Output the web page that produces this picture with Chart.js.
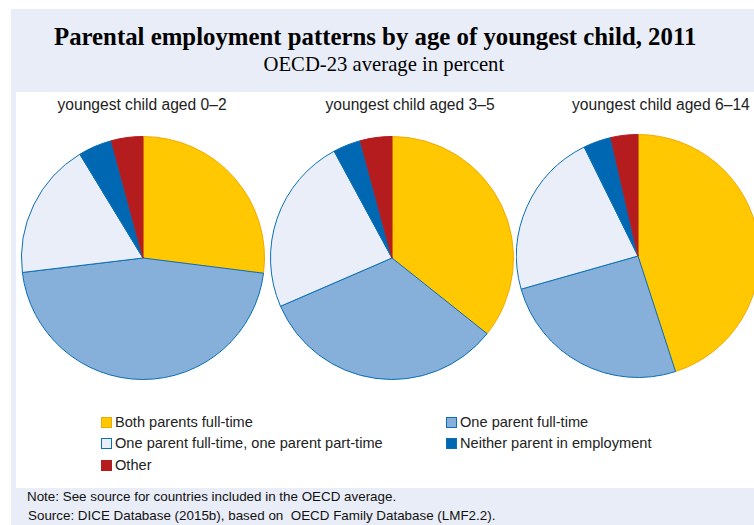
<!DOCTYPE html>
<html lang="en">
<head>
  <meta charset="UTF-8" />
  <title>Parental employment patterns</title>
  <script src="https://cdn.jsdelivr.net/npm/chart.js"></script>
  <style>
    html, body {
      margin: 0;
      padding: 0;
      width: 754px;
      height: 525px;
      overflow: hidden;
      background: #fff;
      font-family: "Liberation Sans", Arial, sans-serif;
    }
    #frame {
      position: absolute;
      left: 11px; top: 9px;
      width: 743px; height: 516px;
      background: #e9edf7;
      overflow: hidden;
    }
    #panel {
      position: absolute;
      left: 5px; top: 83px;
      width: 738px; height: 396px;
      background: #fff;
    }
    .abs { position: absolute; white-space: pre; }
    #title {
      font-family: "Liberation Serif", "Times New Roman", serif;
      font-weight: bold;
      font-size: 26px;
      color: #000;
      transform-origin: 0 0;
    }
    #subtitle {
      font-family: "Liberation Serif", "Times New Roman", serif;
      font-size: 20.7px;
      color: #000;
    }
    .pietitle { font-size: 15.6px; color: #222; }
    .legend-item { font-size: 14.6px; color: #222; }
    .swatch {
      display: inline-block;
      width: 9px; height: 9px;
      margin-right: 3px;
      vertical-align: -1px;
      border: 1px solid;
    }
    .note { font-size: 13.4px; color: #111; }
    canvas { position: absolute; }
  </style>
</head>
<body>
  <div id="frame">
    <div id="panel"></div>
  </div>

  <script>
    // categories (same order in every pie, clockwise from 12 o'clock)
    const categories = [
      "Both parents full-time",
      "One parent full-time",
      "One parent full-time, one parent part-time",
      "Neither parent in employment",
      "Other"
    ];
    const pieTitles = ["youngest child aged 0\u20132", "youngest child aged 3\u20135", "youngest child aged 6\u201314"];

    // percent shares
    const aged0to2  = [27.0, 46.1, 18.2, 4.5, 4.2];
    const aged3to5  = [35.7, 32.8, 23.6, 3.7, 4.2];
    const aged6to14 = [45.0, 25.6, 22.1, 3.7, 3.6];

    const fillColors   = ["#ffc800", "#86afd9", "#e9eef8", "#0068b3", "#b51c1e"];
    const borderColors = ["#f2a800", "#0a6fb5", "#0a6fb5", "#0a6fb5", "#b51c1e"];

    const frame = document.getElementById("frame");

    // place a text block; top is page y, centerX (page x) or left (page x)
    function addText(cls, text, left, top, centerX, id) {
      const d = document.createElement("div");
      d.className = "abs " + cls;
      if (id) d.id = id;
      d.textContent = text;
      frame.appendChild(d);
      d.style.top = (top - 9) + "px";
      if (centerX !== null) {
        d.style.left = (centerX - 11 - d.offsetWidth / 2) + "px";
      } else {
        d.style.left = (left - 11) + "px";
      }
      return d;
    }

    // main title is a condensed bold serif: squeeze it to the reference width
    const t = addText("", "Parental employment patterns by age of youngest child, 2011", 0, 22, null, "title");
    const tw = t.offsetWidth;
    t.style.transform = "scaleX(" + (642 / tw) + ")";
    t.style.left = (54 - 11) + "px";
    addText("", "OECD-23 average in percent", 0, 53, 384, "subtitle");

    // pies: [data, centerX, centerY, titleCenterX]
    const pies = [
      [aged0to2, 143, 258, 142],
      [aged3to5, 392, 258, 410],
      [aged6to14, 638, 256, 661]
    ];
    const size = 244;

    pies.forEach((p, i) => {
      addText("pietitle", pieTitles[i], 0, 96, p[3]);

      const c = document.createElement("canvas");
      c.width = size; c.height = size;
      c.style.left = (p[1] - size / 2 - 11) + "px";
      c.style.top = (p[2] - size / 2 - 9) + "px";
      frame.appendChild(c);

      new Chart(c.getContext("2d"), {
        type: "pie",
        data: {
          labels: categories,
          datasets: [{
            data: p[0],
            backgroundColor: fillColors,
            borderColor: borderColors,
            borderWidth: 1
          }]
        },
        options: {
          responsive: false,
          animation: false,
          layout: { padding: 0 },
          plugins: {
            legend: { display: false },
            tooltip: { enabled: false }
          }
        }
      });
    });

    // legend, two columns
    const legendPos = [[101, 414], [446, 414], [101, 435], [446, 435], [101, 457]];
    categories.forEach((cat, i) => {
      const d = document.createElement("div");
      d.className = "abs legend-item";
      d.style.left = (legendPos[i][0] - 11) + "px";
      d.style.top = (legendPos[i][1] - 9) + "px";
      const sw = document.createElement("span");
      sw.className = "swatch";
      sw.style.background = fillColors[i];
      sw.style.borderColor = borderColors[i];
      d.appendChild(sw);
      d.appendChild(document.createTextNode(cat));
      frame.appendChild(d);
    });

    addText("note", "Note: See source for countries included in the OECD average.", 27, 489, null);
    addText("note", "Source: DICE Database (2015b), based on  OECD Family Database (LMF2.2).", 28, 508, null);
  </script>
</body>
</html>
